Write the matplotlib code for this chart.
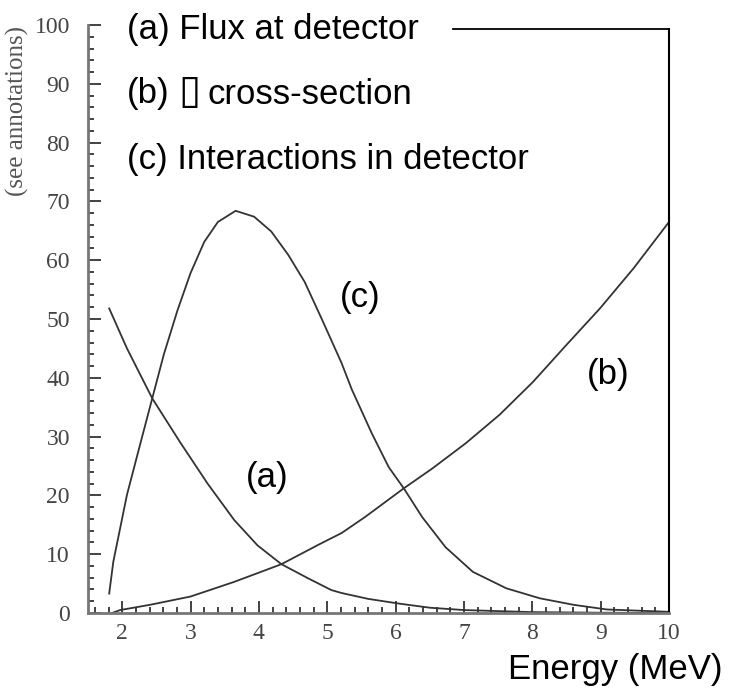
import numpy as np
import matplotlib.pyplot as plt
from matplotlib.ticker import MultipleLocator

# values
flux_e = [1.81, 2.07, 2.44, 2.85, 3.25, 3.64, 3.98, 4.33, 4.72, 5.06, 5.21, 5.60, 6.05, 6.50, 7.00, 8.00, 9.00, 10.0]
flux = [51.8, 45.0, 36.5, 29.0, 22.0, 15.8, 11.5, 8.3, 5.9, 3.9, 3.4, 2.4, 1.6, 0.9, 0.5, 0.15, 0.05, 0.0]

xsec_e = [1.85, 1.97, 2.41, 3.00, 3.64, 4.33, 4.87, 5.21, 5.55, 6.12, 6.54, 7.03, 7.52, 8.01, 8.50, 8.99, 9.48, 10.0]
xsec = [0.0, 0.5, 1.4, 2.8, 5.3, 8.3, 11.6, 13.6, 16.3, 21.2, 24.6, 28.9, 33.7, 39.3, 45.6, 51.8, 58.6, 66.5]

inter_e = [1.81, 1.87, 2.07, 2.27, 2.44, 2.61, 2.81, 3.00, 3.20, 3.40, 3.66, 3.93, 4.18, 4.43, 4.67, 4.92,
           5.21, 5.36, 5.65, 5.90, 6.12, 6.39, 6.73, 7.13, 7.62, 8.11, 8.60, 9.09, 10.0]
inter = [3.3, 8.7, 20.1, 29.0, 36.5, 44.0, 51.5, 57.8, 63.1, 66.5, 68.4, 67.4, 64.9, 60.9, 56.3, 50.0,
         42.5, 38.0, 30.6, 24.8, 21.2, 16.3, 11.2, 7.0, 4.2, 2.5, 1.4, 0.6, 0.2]

legend_a = "(a) Flux at detector"
legend_b = ["(b)", "\u25af", "cross-section"]
legend_c = "(c) Interactions in detector"
curve_tags = ["(a)", "(b)", "(c)"]
tag_pos = [(4.12, 23.0), (9.11, 40.5), (5.48, 53.7)]

W, H = 736, 692
fig = plt.figure(figsize=(W / 100, H / 100), dpi=100)
ax = fig.add_axes([88 / W, 1 - 613 / H, 581 / W, 588 / H])

line_kw = dict(color='#333333', lw=1.3)
ax.plot(flux_e, flux, **line_kw)
ax.plot(xsec_e, xsec, **line_kw)
ax.plot(inter_e, inter, **line_kw)

ax.set_xlim(1.5, 10)
ax.set_ylim(0, 100)
ax.xaxis.set_minor_locator(MultipleLocator(0.2))
ax.yaxis.set_major_locator(MultipleLocator(10))
ax.yaxis.set_minor_locator(MultipleLocator(2))
ax.set_xticks(range(2, 11))

for s in ['top', 'right']:
    ax.spines[s].set_visible(False)
for s in ['left', 'bottom']:
    ax.spines[s].set_color('#777777')
    ax.spines[s].set_linewidth(2)

ax.tick_params(which='both', direction='in', color='#222222', width=1.2)
ax.tick_params(which='major', length=9)
ax.tick_params(which='minor', length=4.5)
ax.tick_params(axis='y', pad=13)
ax.tick_params(axis='x', pad=7)
for lab in ax.get_xticklabels() + ax.get_yticklabels():
    lab.set_fontfamily('Liberation Serif')
    lab.set_fontsize(17)
    lab.set_color('#444444')

# partial frame on the top right
ax.plot([1, 1], [0, 0.993], transform=ax.transAxes, clip_on=False, color='black', lw=1.5)
ax.plot([0.628, 1], [0.993, 0.993], transform=ax.transAxes, clip_on=False, color='black', lw=1.3)

for t, (x, y) in zip(curve_tags, tag_pos):
    ax.text(x, y, t, ha='center', va='center', fontsize=25, family='Liberation Sans')

fig.text(127 / W, 1 - 29 / H, legend_a, va='center', fontsize=25, family='Liberation Sans')
fig.text(127 / W, 1 - 94 / H, legend_b[0], va='center', fontsize=25, family='Liberation Sans')
fig.text(189 / W, 1 - 92 / H, legend_b[1], ha='center', va='center', fontsize=29, family='DejaVu Sans')
fig.text(208 / W, 1 - 94 / H, legend_b[2], va='center', fontsize=25, family='Liberation Sans')
fig.text(127 / W, 1 - 159 / H, legend_c, va='center', fontsize=25, family='Liberation Sans')

fig.text(17 / W, 1 - 111 / H, "(see annotations)", rotation=90, ha='center', va='center',
         fontsize=18, family='Liberation Serif', color='#555555')
fig.text(723 / W, 1 - 670 / H, "Energy (MeV)", ha='right', va='center', fontsize=25,
         family='Liberation Sans')

fig.savefig('out.png', dpi=100)
